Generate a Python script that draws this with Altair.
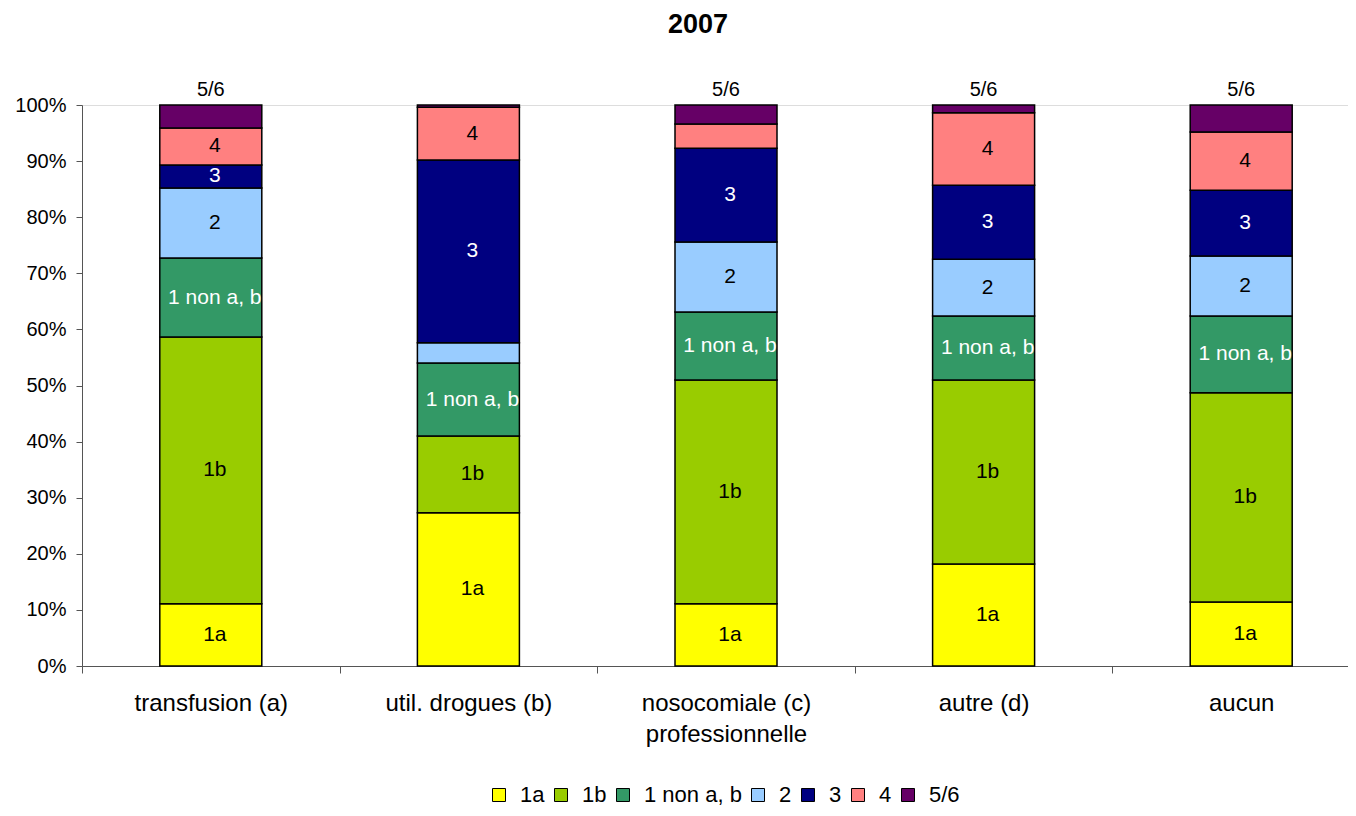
import altair as alt
import pandas as pd

categories = ["transfusion (a)", "util. drogues (b)", "nosocomiale (c)\nprofessionnelle", "autre (d)", "aucun"]
series = ["1a", "1b", "1 non a, b", "2", "3", "4", "5/6"]
colors = ["#FFFF00", "#99CC00", "#339966", "#99CCFF", "#000080", "#FF8080", "#660066"]
label_colors = ["black", "black", "white", "black", "white", "black", "black"]

values = {
    "1a":         [11.1, 27.3, 11.1, 18.2, 11.4],
    "1b":         [47.6, 13.7, 39.9, 32.8, 37.3],
    "1 non a, b": [14.1, 13.0, 12.1, 11.4, 13.7],
    "2":          [12.5, 3.6, 12.5, 10.1, 10.7],
    "3":          [4.1, 32.6, 16.7, 13.2, 11.7],
    "4":          [6.6, 9.4, 4.3, 12.9, 10.4],
    "5/6":        [4.1, 0.4, 3.4, 1.4, 4.8],
}
# which segment labels are shown in the reference
shown = {
    "1a":         [1, 1, 1, 1, 1],
    "1b":         [1, 1, 1, 1, 1],
    "1 non a, b": [1, 1, 1, 1, 1],
    "2":          [1, 0, 1, 1, 1],
    "3":          [1, 1, 1, 1, 1],
    "4":          [1, 1, 0, 1, 1],
    "5/6":        [1, 0, 1, 1, 1],
}

rows = []
for si, s in enumerate(series):
    for ci, c in enumerate(categories):
        rows.append({"cat": c, "serie": s, "idx": si, "value": values[s][ci],
                     "show": shown[s][ci], "lc": label_colors[si]})
df = pd.DataFrame(rows)

FONT = "Liberation Sans"

x_enc = alt.X("cat:N", sort=categories, title=None,
              scale=alt.Scale(range=[0, 1288], paddingInner=0, paddingOuter=0),
              axis=alt.Axis(labelAngle=0, labelFontSize=24, labelFont=FONT, labelColor="black",
                            tickBand="extent", tickSize=7, tickColor="#555", domainColor="#555",
                            labelPadding=18, labelExpr="split(datum.label, '\\n')",
                            labelLineHeight=31, labelBaseline="top"))

base = alt.Chart(df).transform_stack(
    stack="value", groupby=["cat"], as_=["y0", "y1"],
    sort=[alt.SortField("idx", order="ascending")], offset="normalize"
).transform_calculate(mid="(datum.y0 + datum.y1) / 2")

bars = base.mark_bar(size=102, stroke="black", strokeWidth=1.5).encode(
    x=x_enc,
    y=alt.Y("y0:Q", scale=alt.Scale(domain=[0, 1], nice=False),
            axis=alt.Axis(format="%", values=[i / 10 for i in range(11)], grid=False,
                          labelFontSize=20, labelFont=FONT, labelColor="black",
                          tickSize=6, tickColor="#555", domainColor="#555", labelPadding=10),
            title=None),
    y2="y1:Q",
    color=alt.Color("serie:N", sort=series,
                    scale=alt.Scale(domain=series, range=colors),
                    legend=alt.Legend(title=None, orient="none", direction="horizontal",
                                      legendX=406, legendY=679,
                                      symbolType="square", symbolSize=169,
                                      symbolStrokeColor="black", symbolStrokeWidth=1,
                                      symbolOpacity=1,
                                      labelFontSize=22, labelFont=FONT, labelColor="black",
                                      columnPadding=5, labelOffset=10)),
)

seg_text = base.transform_filter(
    "datum.show == 1 && datum.serie != '5/6'"
).mark_text(fontSize=21, font=FONT, dx=4).encode(
    x=alt.X("cat:N", sort=categories),
    y=alt.Y("mid:Q"),
    text="serie:N",
    color=alt.Color("lc:N", scale=None, legend=None),
)

top_text = base.transform_filter(
    "datum.show == 1 && datum.serie == '5/6'"
).mark_text(fontSize=20, font=FONT, baseline="bottom", dy=-5, color="black").encode(
    x=alt.X("cat:N", sort=categories),
    y=alt.Y("y1:Q"),
    text="serie:N",
)

chart = alt.layer(bars, seg_text, top_text).properties(
    width=1266, height=561,
    title=alt.TitleParams("2007", fontSize=27, font=FONT, fontWeight="bold",
                          offset=41, dx=-17, color="black"),
    autosize=alt.AutoSizeParams(type="none"),
    padding={"left": 74, "top": 97, "right": 0, "bottom": 142},
).configure_view(stroke=None).configure(background="white")

chart.save("out.html", embed_options={"renderer": "svg", "actions": False})
